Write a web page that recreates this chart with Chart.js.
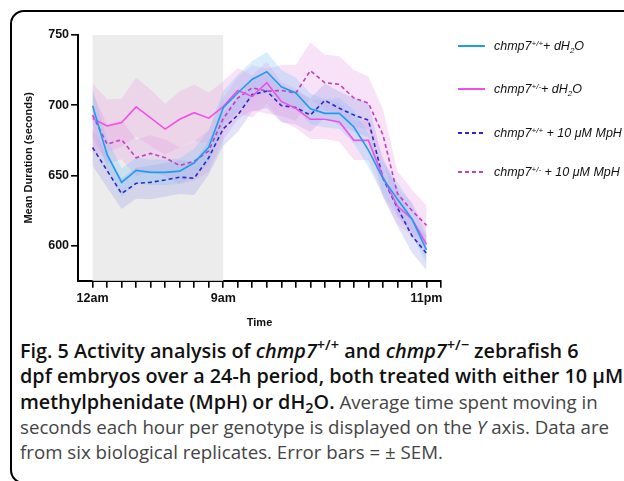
<!DOCTYPE html>
<html>
<head>
<meta charset="utf-8">
<script src="https://cdn.jsdelivr.net/npm/chart.js@4.4.1/dist/chart.umd.min.js"></script>
<style>
  html, body { margin: 0; padding: 0; background: #fff; }
  body { width: 624px; height: 481px; position: relative; overflow: hidden; }
  #frame {
    position: absolute; left: 10px; top: 10px; width: 680px; height: 474px;
    border: 2.5px solid #000; border-radius: 14px; box-sizing: border-box;
  }
  #wrap { position: absolute; left: 0; top: 0; }
  #legend { position: absolute; left: 458px; top: 0; font-family: "Liberation Sans", Arial, sans-serif; font-style: italic; font-size: 12.5px; color: #111; }
  .item { position: absolute; left: 0; white-space: nowrap; display: flex; align-items: center; height: 16px; }
  .swatch { width: 27px; height: 2px; margin-right: 9px; }
  .item sup, .item sub { font-size: 8px; line-height: 0; }
  .item sup { vertical-align: 4px; }
  .item sub { vertical-align: -3px; }
  #caption {
    position: absolute; left: 20px; top: 338px; white-space: nowrap;
    font-family: "Open Sans", sans-serif; font-size: 18.7px; line-height: 25.3px; color: #444;
  }
  #caption b { color: #111; font-size: 19.8px; font-weight: 600; }
  #caption b sup, #caption b sub { font-size: 14.5px; line-height: 0; }
  #caption sup { vertical-align: 8px; }
  #caption sub { vertical-align: -4px; }
</style>
</head>
<body>
<div id="frame"></div>
<div id="wrap"><canvas id="myChart" width="624" height="335"></canvas></div>
<div id="legend"></div>
<div id="caption"><b>Fig. 5 Activity analysis of <i>chmp7</i><sup>+/+</sup> and <i>chmp7</i><sup>+/−</sup> zebrafish 6<br>dpf embryos over a 24-h period, both treated with either 10 μM<br>methylphenidate (MpH) or dH<sub>2</sub>O.</b> Average time spent moving in<br>seconds each hour per genotype is displayed on the <i>Y</i> axis. Data are<br>from six biological replicates. Error bars = ± SEM.</div>
<script>
// hours after midnight
const hours = [0, 1, 2, 3, 4, 5, 6, 7, 8, 9, 10, 11, 12, 13, 14, 15, 16, 17, 18, 19, 20, 21, 22, 23];

// mean duration (seconds) per hour
const wtWater  = [699.6, 665, 645, 653.6, 652.2, 652.2, 653.1, 659, 670, 698.3, 708.7, 718.5, 723.8, 713.1, 708.7, 697.4, 694.2, 694.2, 684.5, 668, 648, 633, 619, 597];
const hetWater = [690.5, 685.2, 687.6, 698.8, 691, 683, 690, 694.7, 690.8, 699, 710.5, 706.3, 716, 702.7, 697.8, 690, 690, 688, 675, 675, 649, 628, 619, 601];
const wtMph    = [669.9, 653.5, 637.1, 644.4, 645.1, 646.8, 648.8, 648, 662.6, 683.2, 693, 707.6, 710, 699.8, 698.3, 693, 703.4, 697.8, 693, 689.4, 648, 627, 607, 594.6];
const hetMph   = [693, 672.3, 675.5, 662.6, 665.7, 662.6, 657, 660.2, 667.5, 690.5, 705.1, 712.4, 710, 710.5, 708.7, 724.6, 716, 714.9, 705.1, 701.5, 679, 637, 625, 614.5];

// SEM per hour
const wtWaterSem  = [13, 11, 10, 9, 9, 9, 9, 10, 12, 12, 13, 13, 14, 12, 11, 11, 10, 11, 12, 12, 12, 12, 11, 10];
const hetWaterSem = [25, 19, 17, 21, 20, 18, 20, 20, 18, 18, 16, 15, 15, 14, 14, 14, 14, 14, 14, 14, 14, 13, 12, 10];
const wtMphSem    = [13, 12, 11, 11, 12, 12, 12, 12, 12, 12, 12, 12, 12, 12, 12, 12, 12, 12, 12, 12, 13, 13, 12, 12];
const hetMphSem   = [16, 14, 14, 13, 13, 13, 13, 14, 15, 15, 15, 16, 16, 18, 20, 20, 20, 20, 20, 19, 18, 16, 15, 14];

const seriesNames = [
  'chmp7<sup>+/+</sup>+ dH<sub>2</sub>O',
  'chmp7<sup>+/-</sup>+ dH<sub>2</sub>O',
  'chmp7<sup>+/+</sup> + 10 μM MpH',
  'chmp7<sup>+/-</sup> + 10 μM MpH'
];

const xTickHours = [0, 1, 2, 3, 4, 5, 6, 7, 8, 9, 10, 11, 12, 13, 14, 15, 16, 17, 18, 19, 20, 21, 22, 23, 24];
const xLabelHours = [0, 9, 23];
const xLabels = ['12am', '9am', '11pm'];
const yTicks = [600, 650, 700, 750];
const nightHours = [0, 9];

const series = [
  { mean: wtWater,  sem: wtWaterSem,  color: '#1f9cf0', band: 'rgba(130, 195, 245, 0.30)', dash: [] },
  { mean: hetWater, sem: hetWaterSem, color: '#f050e6', band: 'rgba(240, 160, 225, 0.30)', dash: [] },
  { mean: wtMph,    sem: wtMphSem,    color: '#2b2bc8', band: 'rgba(150, 150, 235, 0.28)', dash: [4, 3] },
  { mean: hetMph,   sem: hetMphSem,   color: '#c23fc0', band: 'rgba(225, 150, 225, 0.28)', dash: [4, 3] }
];

const pts = (arr) => hours.map((h, i) => ({ x: h, y: arr[i] }));

const datasets = [];
series.forEach((s) => {
  datasets.push({
    data: pts(s.mean.map((m, i) => m + s.sem[i])),
    borderWidth: 0, pointRadius: 0, fill: '+1', backgroundColor: s.band, order: 2, tension: 0
  });
  datasets.push({
    data: pts(s.mean.map((m, i) => m - s.sem[i])),
    borderWidth: 0, pointRadius: 0, fill: false, order: 2, tension: 0
  });
});
series.forEach((s) => {
  datasets.push({
    data: pts(s.mean), borderColor: s.color, borderWidth: 1.6, borderDash: s.dash,
    pointRadius: 0, fill: false, order: 1, tension: 0
  });
});

const nightShade = {
  id: 'nightShade',
  beforeDatasetsDraw(chart) {
    const { ctx, chartArea, scales: { x } } = chart;
    const x0 = x.getPixelForValue(nightHours[0]);
    const x1 = x.getPixelForValue(nightHours[1]);
    ctx.save();
    ctx.fillStyle = '#ececec';
    ctx.fillRect(x0, chartArea.top, x1 - x0, chartArea.bottom - chartArea.top);
    ctx.restore();
  }
};

const axisFont = { family: '"Liberation Sans", Arial, sans-serif', weight: 'bold', size: 12.5 };

new Chart(document.getElementById('myChart'), {
  type: 'line',
  data: { datasets },
  plugins: [nightShade],
  options: {
    responsive: false,
    animation: false,
    layout: { padding: { left: 22, right: 183, top: 35, bottom: 5 } },
    plugins: { legend: { display: false }, tooltip: { enabled: false } },
    scales: {
      x: {
        type: 'linear', min: -1, max: 24,
        afterBuildTicks: (scale) => { scale.ticks = xTickHours.map(v => ({ value: v })); },
        ticks: {
          autoSkip: false, maxRotation: 0, padding: 3, color: '#111', font: axisFont,
          callback: (v) => { const k = xLabelHours.indexOf(v); return k >= 0 ? xLabels[k] : ''; }
        },
        grid: { display: true, drawOnChartArea: false, drawTicks: true, tickLength: 7, color: '#000', lineWidth: 1.6 },
        border: { display: true, color: '#000', width: 2 },
        title: { display: true, text: 'Time', color: '#111', font: { family: axisFont.family, weight: 'bold', size: 11 }, padding: { top: 8, bottom: 0 } }
      },
      y: {
        min: 575, max: 750,
        afterBuildTicks: (scale) => { scale.ticks = yTicks.map(v => ({ value: v })); },
        ticks: { padding: 2, color: '#111', font: axisFont },
        grid: { display: true, drawOnChartArea: false, drawTicks: true, tickLength: 7, color: '#000', lineWidth: 1.6 },
        border: { display: true, color: '#000', width: 2 },
        title: { display: true, text: 'Mean Duration (seconds)', color: '#111', font: { family: axisFont.family, weight: 'bold', size: 11 }, padding: { top: 0, bottom: 11 } }
      }
    }
  }
});

// legend with super/subscripts as html text
const legendTops = [38, 81, 125, 164];
const legend = document.getElementById('legend');
series.forEach((s, i) => {
  const item = document.createElement('div');
  item.className = 'item';
  item.style.top = legendTops[i] + 'px';
  const sw = document.createElement('span');
  sw.className = 'swatch';
  sw.style.background = s.dash.length
    ? 'repeating-linear-gradient(to right, ' + s.color + ' 0 4px, transparent 4px 7px)'
    : s.color;
  const txt = document.createElement('span');
  txt.innerHTML = seriesNames[i];
  item.appendChild(sw);
  item.appendChild(txt);
  legend.appendChild(item);
});
</script>
</body>
</html>
